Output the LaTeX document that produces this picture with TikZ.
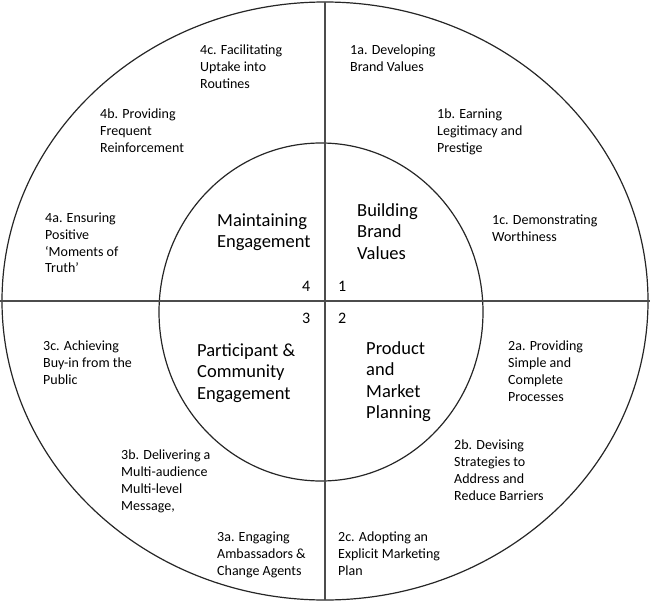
\documentclass[tikz,border=0pt]{standalone}
\usepackage{fontspec}
\setmainfont{Carlito}
\usetikzlibrary{positioning}

\begin{document}
\begin{tikzpicture}[x=1pt,y=-1pt,
    sub/.style={anchor=north west,yshift=10pt,align=left,inner sep=0pt,
      execute at begin node=\strut,font=\fontsize{14}{16.7}\selectfont},
    core/.style={anchor=north west,yshift=12.5pt,align=left,inner sep=0pt,
      execute at begin node=\strut,font=\fontsize{18.5}{21.4}\selectfont},
    num/.style={anchor=base west,inner sep=0pt,font=\fontsize{16}{18}\selectfont},
    rim/.style={draw=black!85,line width=1.2pt},
    axis/.style={draw=black!70,line width=1.6pt}]
    \useasboundingbox (0,0) rectangle (650,605);
    % rings and quarters
    \draw[rim] (325,301) ellipse [x radius=323, y radius=299];
    \draw[rim] (321,312) ellipse [x radius=162, y radius=169];
    \draw[axis] (0,301) -- (650,301);
    \draw[axis,line width=1.2pt] (325,2) -- (325,600);
    % quarter 4
    \node[sub] (s4c) at (200,55) {4c. Facilitating\\Uptake into\\Routines};
    \node[sub] (s4b) at (100,119) {4b. Providing\\Frequent\\Reinforcement};
    \node[sub] (s4a) at (45,223) {4a. Ensuring\\Positive\\`Moments of\\Truth'};
    \node[core] (c4) at (217,226) {Maintaining\\Engagement};
    \node[num] (n4) at (302,291) {4};
    % quarter 1
    \node[sub] (s1a) at (350,55) {1a. Developing\\Brand Values};
    \node[sub] (s1b) at (437,119) {1b. Earning\\Legitimacy and\\Prestige};
    \node[sub] (s1c) at (492,225) {1c. Demonstrating\\Worthiness};
    \node[core] (c1) at (357,216) {Building\\Brand\\Values};
    \node[num] (n1) at (338,291) {1};
    % quarter 3
    \node[num] (n3) at (302,323) {3};
    \node[core] (c3) at (197,356) {Participant \&\\Community\\Engagement};
    \node[sub] (s3c) at (43,351) {3c. Achieving\\Buy-in from the\\Public};
    \node[sub] (s3b) at (121,460) {3b. Delivering a\\Multi-audience\\Multi-level\\Message,};
    \node[sub] (s3a) at (217,542) {3a. Engaging\\Ambassadors \&\\Change Agents};
    % quarter 2
    \node[num] (n2) at (338,323) {2};
    \node[core] (c2) at (366,354) {Product\\and\\Market\\Planning};
    \node[sub] (s2a) at (508,351) {2a. Providing\\Simple and\\Complete\\Processes};
    \node[sub] (s2b) at (454,450) {2b. Devising\\Strategies to\\Address and\\Reduce Barriers};
    \node[sub] (s2c) at (338,542) {2c. Adopting an\\Explicit Marketing\\Plan};
\end{tikzpicture}
\end{document}
